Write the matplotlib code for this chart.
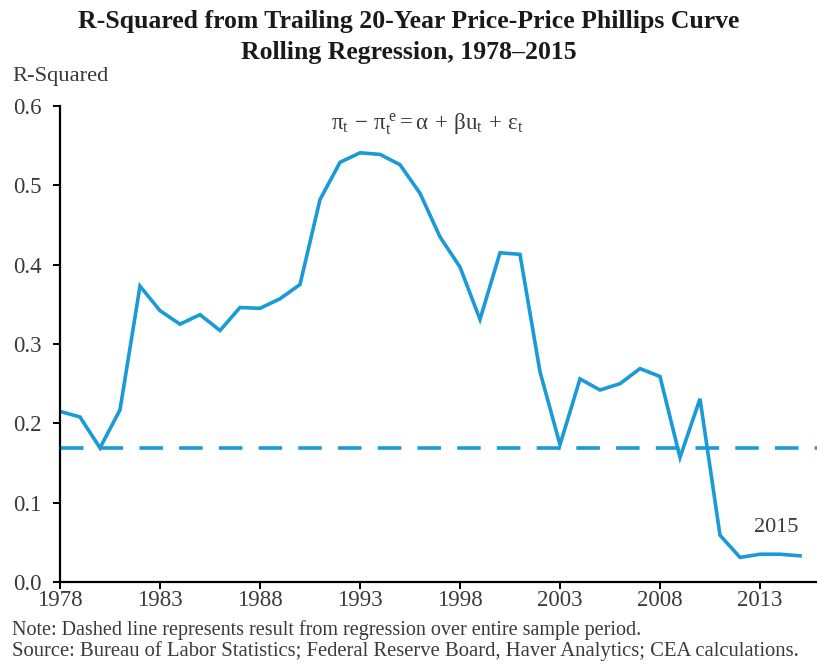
import matplotlib
matplotlib.use("Agg")
import matplotlib.pyplot as plt

# R-squared
years = list(range(1978, 2016))
r_squared = [0.215, 0.208, 0.169, 0.217, 0.373, 0.342, 0.325, 0.337, 0.317, 0.346,
             0.345, 0.357, 0.375, 0.482, 0.529, 0.541, 0.539, 0.526, 0.490, 0.435,
             0.397, 0.331, 0.415, 0.413, 0.265, 0.173, 0.256, 0.242, 0.250, 0.269,
             0.259, 0.157, 0.231, 0.059, 0.031, 0.035, 0.035, 0.033]
full_sample = 0.169
xticks = list(range(1978, 2014, 5))
yticks = [0.0, 0.1, 0.2, 0.3, 0.4, 0.5, 0.6]

blue = "#1a9ad6"
grey = "#3a3a3a"
plt.rcParams["font.family"] = ["Liberation Serif", "DejaVu Serif"]
plt.rcParams["mathtext.fontset"] = "custom"
plt.rcParams["mathtext.rm"] = "Liberation Serif"
plt.rcParams["mathtext.it"] = "Liberation Serif"

fig = plt.figure(figsize=(8.17, 6.70), dpi=100)
ax = fig.add_axes([60 / 817, 88 / 670, 757 / 817, 476 / 670])

ax.plot(years, r_squared, color=blue, lw=2.6, solid_joinstyle="miter")
ax.axhline(full_sample, color=blue, lw=2.6, dashes=(6.5, 4.5))

ax.set_xlim(1978, 1978 + 757 / 20)
ax.set_ylim(0, 0.6)
ax.set_xticks(xticks)
ax.set_yticks(yticks)
ax.set_yticklabels([f"{v:.1f}" for v in yticks])

for s in ["top", "right"]:
    ax.spines[s].set_visible(False)
for s in ["left", "bottom"]:
    ax.spines[s].set_linewidth(1.6)
ax.tick_params(axis="both", direction="out", length=5, width=1.4,
               labelsize=16.5, labelcolor=grey)
ax.tick_params(axis="y", pad=8)
ax.tick_params(axis="x", pad=1)

ax.text(2014.9, 0.069, "2015", ha="right", va="center", fontsize=16, color=grey)
ax.text(0.485, 0.962, r"$\pi_t\,-\,\pi_t^{\,e} = \alpha\,+\,\beta u_t\,+\,\varepsilon_t$",
        transform=ax.transAxes, ha="center", va="center", fontsize=16.5, color=grey)

fig.text(0.5, 0.968, "R-Squared from Trailing 20-Year Price-Price Phillips Curve",
         ha="center", va="center", fontsize=18.5, fontweight="bold", color="#1a1a1a")
fig.text(0.5, 0.921, "Rolling Regression, 1978\u20132015",
         ha="center", va="center", fontsize=18.5, fontweight="bold", color="#1a1a1a")
fig.text(12 / 817, 1 - 76 / 670, "R-Squared", ha="left", va="center",
         fontsize=16.2, color=grey)
fig.text(12 / 817, 1 - 630 / 670,
         "Note: Dashed line represents result from regression over entire sample period.",
         ha="left", va="center", fontsize=14.5, color=grey)
fig.text(12 / 817, 1 - 651 / 670,
         "Source: Bureau of Labor Statistics; Federal Reserve Board, Haver Analytics; CEA calculations.",
         ha="left", va="center", fontsize=14.9, color=grey)

fig.savefig("out.png", dpi=100)
